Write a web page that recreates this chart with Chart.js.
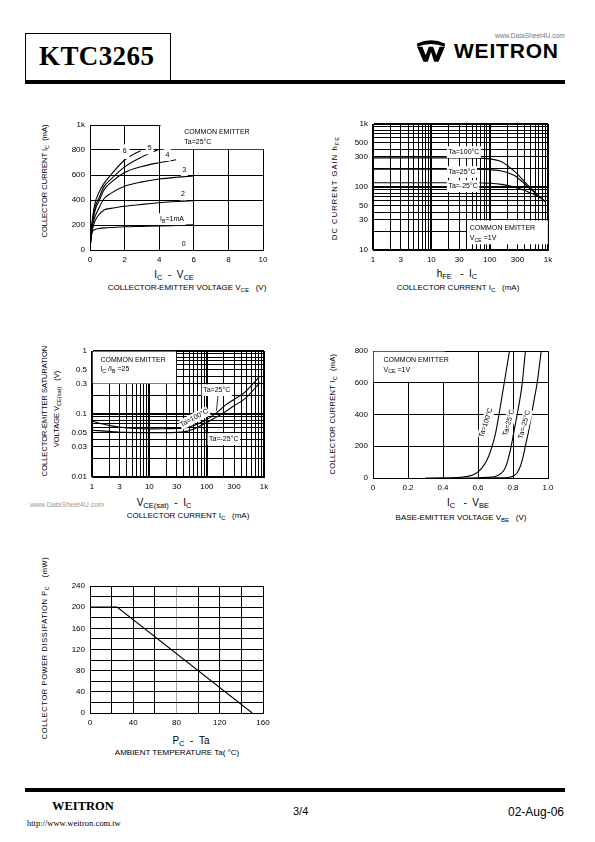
<!DOCTYPE html>
<html><head><meta charset="utf-8">
<script src="https://cdn.jsdelivr.net/npm/chart.js@4.4.1/dist/chart.umd.min.js"></script>
<style>
html,body{margin:0;padding:0;background:#fff;}
#page{position:relative;width:595px;height:842px;overflow:hidden;font-family:"Liberation Sans",Arial,sans-serif;color:#000;}
.abs{position:absolute;white-space:nowrap;line-height:1;}
canvas{position:absolute;}
.t7{font-size:7.5px;}
.d8{font-size:8px;}
.t10{font-size:10px;}
sub{font-size:75%;vertical-align:-0.3em;line-height:0;}
.rot{transform:translate(-50%,-50%) rotate(-90deg);}
.ctr{transform:translate(-50%,-50%);}
.serif{font-family:"Liberation Serif","Times New Roman",serif;}
</style></head><body><div id="page">
<!-- header -->
<div class="abs" style="left:25px;top:33px;width:144px;height:48px;border:1px solid #000;border-bottom:none;"></div>
<div class="abs serif" style="left:39px;top:43px;font-size:27px;font-weight:bold;letter-spacing:0.4px;">KTC3265</div>
<div class="abs" style="left:25px;top:80px;width:540px;height:4px;background:#000;"></div>
<div class="abs" style="left:495px;top:33px;font-size:6.6px;color:#777;">www.DataSheet4U.com</div>
<svg class="abs" style="left:415px;top:39px;" width="32" height="24" viewBox="0 0 30 22">
 <path d="M2 4 Q15 -2 28 4 L28 7 Q15 2 2 7 Z" fill="#000"/>
 <path d="M2 7 L8 21 L12 21 L15 12 L18 21 L22 21 L28 7 L23 7 L20 15 L17 7 L13 7 L10 15 L7 7 Z" fill="#000"/>
</svg>
<div class="abs" style="left:454px;top:40px;font-size:21px;font-weight:bold;letter-spacing:0.8px;">WEITRON</div>
<!-- footer -->
<div class="abs" style="left:25px;top:788px;width:540px;height:4px;background:#000;"></div>
<div class="abs serif" style="left:52px;top:800px;font-size:12.5px;font-weight:bold;">WEITRON</div>
<div class="abs serif" style="left:27px;top:819px;font-size:8.5px;">http://www.weitron.com.tw</div>
<div class="abs" style="left:293px;top:806px;font-size:11px;">3/4</div>
<div class="abs" style="left:508px;top:806px;font-size:12px;">02-Aug-06</div>
<div class="abs" style="left:30px;top:501px;font-size:7px;color:#999;">www.DataSheet4U.com</div>

<!-- chart 1 titles -->
<div class="abs t7 rot" style="left:45px;top:181px;">COLLECTOR CURRENT I<sub>C</sub> &nbsp;(mA)</div>
<div class="abs t10 ctr" style="left:174px;top:275px;">I<sub>C</sub> &nbsp;- &nbsp;V<sub>CE</sub></div>
<div class="abs d8 ctr" style="left:187px;top:288px;">COLLECTOR-EMITTER VOLTAGE V<sub>CE</sub> &nbsp;&nbsp;(V)</div>
<!-- chart 2 titles -->
<div class="abs t7 rot" style="left:335px;top:188px;letter-spacing:1.1px;">DC CURRENT GAIN h<sub>FE</sub></div>
<div class="abs t10 ctr" style="left:457px;top:274px;">h<sub>FE</sub> &nbsp;&nbsp;- &nbsp;I<sub>C</sub></div>
<div class="abs d8 ctr" style="left:458px;top:288px;">COLLECTOR CURRENT I<sub>C</sub> &nbsp;&nbsp;(mA)</div>
<!-- chart 3 titles -->
<div class="abs t7 rot" style="left:45px;top:411px;">COLLECTOR-EMITTER SATURATION</div>
<div class="abs t7 rot" style="left:57px;top:409px;">VOLTAGE V<sub>CE(sat)</sub> &nbsp;&nbsp;(V)</div>
<div class="abs t10 ctr" style="left:164px;top:503px;">V<sub>CE(sat)</sub> &nbsp;- &nbsp;I<sub>C</sub></div>
<div class="abs d8 ctr" style="left:188px;top:516px;">COLLECTOR CURRENT I<sub>C</sub> &nbsp;&nbsp;(mA)</div>
<!-- chart 4 titles -->
<div class="abs t7 rot" style="left:333px;top:414px;letter-spacing:0.3px;">COLLECTOR CURRENT I<sub>C</sub> &nbsp;(mA)</div>
<div class="abs t10 ctr" style="left:468px;top:503px;">I<sub>C</sub> &nbsp;&nbsp;- &nbsp;V<sub>BE</sub></div>
<div class="abs d8 ctr" style="left:461px;top:518px;">BASE-EMITTER VOLTAGE V<sub>BE</sub> &nbsp;&nbsp;(V)</div>
<!-- chart 5 titles -->
<div class="abs t7 rot" style="left:45px;top:648px;letter-spacing:0.6px;">COLLECTOR POWER DISSIPATION P<sub>C</sub> &nbsp;&nbsp;(mW)</div>
<div class="abs t10 ctr" style="left:191px;top:741px;">P<sub>C</sub> &nbsp;- &nbsp;Ta</div>
<div class="abs d8 ctr" style="left:177px;top:753px;">AMBIENT TEMPERATURE Ta( °C)</div>
</div>
<script>
// ---------------- DATA ----------------
// Chart 1: IC - VCE (VCE in V, IC in mA), per base current IB
const icVceIb1X = [0, 0.05, 0.12, 0.23, 0.5, 1, 2, 3, 4, 5, 6];
const icVceIb1Y = [0, 90, 140, 160, 172, 178, 186, 189, 192, 197, 202];
const icVceIb2X = [0, 0.05, 0.15, 0.3, 0.5, 0.81, 1.2, 2, 3, 4, 5, 6];
const icVceIb2Y = [0, 80, 170, 235, 280, 320, 333, 350, 365, 378, 388, 395];
const icVceIb3X = [0, 0.05, 0.15, 0.3, 0.5, 0.81, 1.2, 2, 3, 4, 5, 6];
const icVceIb3Y = [0, 90, 200, 270, 330, 410, 453, 510, 545, 568, 582, 592];
const icVceIb4X = [0, 0.05, 0.15, 0.3, 0.5, 0.81, 1.2, 2, 3, 4, 4.97];
const icVceIb4Y = [0, 95, 220, 320, 385, 480, 539, 620, 668, 698, 722];
const icVceIb5X = [0, 0.05, 0.15, 0.3, 0.5, 0.81, 1.2, 2, 3, 4.05];
const icVceIb5Y = [0, 100, 235, 345, 410, 507, 565, 665, 745, 808];
const icVceIb6X = [0, 0.05, 0.15, 0.3, 0.5, 0.81, 1.2, 2, 2.5, 2.95];
const icVceIb6Y = [0, 110, 260, 380, 455, 533, 600, 720, 765, 795];
const icVceXTicks = [0, 2, 4, 6, 8, 10];
const icVceXLabels = ['0', '2', '4', '6', '8', '10'];
const icVceYTicks = [0, 200, 400, 600, 800, 1000];
const icVceYLabels = ['0', '200', '400', '600', '800', '1k'];

// Chart 2: hFE - IC (IC in mA)
const hfeTa100X = [1, 10, 40, 80, 120, 160, 270, 450, 770, 880];
const hfeTa100Y = [290, 290, 290, 285, 272, 252, 175, 107, 66, 59];
const hfeTa25X = [1, 10, 50, 100, 160, 270, 450, 770, 880];
const hfeTa25Y = [191, 191, 191, 188, 180, 151, 101, 66, 59];
const hfeTaM25X = [1, 10, 60, 100, 160, 270, 450, 770, 880];
const hfeTaM25Y = [117, 117, 117, 115, 110, 99, 84, 66, 59];
const hfeXTicks = [1, 3, 10, 30, 100, 300, 1000];
const hfeXLabels = ['1', '3', '10', '30', '100', '300', '1k'];
const hfeYTicks = [10, 30, 50, 100, 300, 500, 1000];
const hfeYLabels = ['10', '30', '50', '100', '300', '500', '1k'];

// Chart 3: VCE(sat) - IC (IC in mA, VCE(sat) in V)
const vsatTa25X = [1, 2, 3, 5.7, 10, 20, 42, 60, 94, 150, 209, 300, 466, 850];
const vsatTa25Y = [0.0766, 0.066, 0.062, 0.0587, 0.058, 0.0585, 0.060, 0.066, 0.079, 0.105, 0.137, 0.17, 0.223, 0.40];
const vsatTaM25X = [1, 2, 4, 10, 20, 40, 60, 94, 150, 209, 300, 466, 850];
const vsatTaM25Y = [0.0552, 0.053, 0.051, 0.0505, 0.0505, 0.052, 0.058, 0.0705, 0.09, 0.1077, 0.135, 0.175, 0.314];
const vsatXTicks = [1, 3, 10, 30, 100, 300, 1000];
const vsatXLabels = ['1', '3', '10', '30', '100', '300', '1k'];
const vsatYTicks = [0.01, 0.03, 0.05, 0.1, 0.3, 0.5, 1];
const vsatYLabels = ['0.01', '0.03', '0.05', '0.1', '0.3', '0.5', '1'];

// Chart 4: IC - VBE (VBE in V, IC in mA)
const vbeTa100X = [0.30, 0.40, 0.45, 0.50, 0.55, 0.59, 0.62, 0.65, 0.675, 0.70, 0.72, 0.735, 0.75, 0.765, 0.78];
const vbeTa100Y = [0, 1, 2, 5, 12, 30, 60, 110, 180, 280, 400, 500, 600, 700, 800];
const vbeTa25X = [0.45, 0.60, 0.68, 0.70, 0.73, 0.757, 0.786, 0.805, 0.824, 0.84, 0.853, 0.862, 0.871];
const vbeTa25Y = [0, 2, 6, 10, 27, 67, 181, 290, 400, 500, 598, 700, 800];
const vbeTaM25X = [0.60, 0.70, 0.78, 0.805, 0.825, 0.843, 0.857, 0.871, 0.89, 0.906, 0.922, 0.938, 0.95, 0.961];
const vbeTaM25Y = [0, 1, 5, 14, 35, 77, 130, 202, 300, 400, 500, 598, 700, 800];
const vbeXTicks = [0, 0.2, 0.4, 0.6, 0.8, 1.0];
const vbeXLabels = ['0', '0.2', '0.4', '0.6', '0.8', '1.0'];
const vbeYTicks = [0, 200, 400, 600, 800];
const vbeYLabels = ['0', '200', '400', '600', '800'];

// Chart 5: PC - Ta (Ta in degC, PC in mW)
const pcTaX = [0, 25, 150];
const pcTaY = [200, 200, 0];
const pcXTicks = [0, 40, 80, 120, 160];
const pcXLabels = ['0', '40', '80', '120', '160'];
const pcYTicks = [0, 40, 80, 120, 160, 200, 240];
const pcYLabels = ['0', '40', '80', '120', '160', '200', '240'];

// ---------------- HELPERS ----------------
const FONT = '"Liberation Sans", Arial, sans-serif';
Chart.defaults.font.family = FONT;
Chart.defaults.font.size = 8;
Chart.defaults.color = '#000';
const page = document.getElementById('page');

function pts(xs, ys) { return xs.map((x, i) => ({ x: x, y: ys[i] })); }
function lookupLabel(values, labels) {
  return function (v) {
    const k = values.findIndex(t => Math.abs(t - v) <= Math.abs(t) * 1e-6 + 1e-9);
    return k >= 0 ? labels[k] : '';
  };
}
function logGrid(min, max) {
  const out = [];
  for (let d = Math.floor(Math.log10(min)); d <= Math.ceil(Math.log10(max)); d++) {
    for (let m = 1; m < 10; m++) {
      const v = +(m * Math.pow(10, d)).toPrecision(6);
      if (v >= min * 0.9999 && v <= max * 1.0001) out.push(v);
    }
  }
  return out;
}
function isDecade(v) { const l = Math.log10(v); return Math.abs(l - Math.round(l)) < 1e-6; }

function linScale(min, max, step, tickVals, tickLabels, gridColor) {
  return {
    type: 'linear', min: min, max: max,
    border: { display: true, color: '#000', width: 1 },
    grid: { color: gridColor || '#000', lineWidth: 1, drawTicks: false },
    ticks: { stepSize: step, autoSkip: false, maxRotation: 0, padding: 5, callback: lookupLabel(tickVals, tickLabels) }
  };
}
function logScale(min, max, tickVals, tickLabels) {
  const g = logGrid(min, max);
  return {
    type: 'logarithmic', min: min, max: max,
    border: { display: true, color: '#000', width: 1 },
    grid: { color: '#000', drawTicks: false, lineWidth: c => (c.tick && isDecade(c.tick.value)) ? 2 : 1 },
    afterBuildTicks: s => { s.ticks = g.map(v => ({ value: v })); },
    ticks: { autoSkip: false, maxRotation: 0, padding: 5, callback: lookupLabel(tickVals, tickLabels) }
  };
}
function line(data, extra) {
  return Object.assign({ data: data, borderColor: '#000', borderWidth: 1.1, pointRadius: 0, fill: false, cubicInterpolationMode: 'monotone' }, extra || {});
}

// rich text with _{sub}
function parseRich(s) {
  const segs = []; const re = /_\{([^}]*)\}/g; let last = 0, m;
  while ((m = re.exec(s))) { if (m.index > last) segs.push({ t: s.slice(last, m.index), sub: false }); segs.push({ t: m[1], sub: true }); last = re.lastIndex; }
  if (last < s.length) segs.push({ t: s.slice(last), sub: false });
  return segs;
}
function richWidth(ctx, segs, size) {
  let w = 0; for (const s of segs) { ctx.font = (s.sub ? size * 0.75 : size) + 'px ' + FONT; w += ctx.measureText(s.t).width; } return w;
}
const ANNOT = {};
const annotPlugin = {
  id: 'annot',
  beforeDatasetsDraw(chart) {
    const a = ANNOT[chart.canvas.id]; if (!a || !a.boxes) return;
    const xs = chart.scales.x, ys = chart.scales.y, ca = chart.chartArea, ctx = chart.ctx;
    ctx.save(); ctx.fillStyle = '#fff';
    for (const b of a.boxes) {
      let x1 = xs.getPixelForValue(b.x1), x2 = xs.getPixelForValue(b.x2);
      let y1 = ys.getPixelForValue(b.y1), y2 = ys.getPixelForValue(b.y2);
      const L = Math.max(Math.min(x1, x2), ca.left - 1), R = Math.min(Math.max(x1, x2), ca.right + 1);
      const T = Math.max(Math.min(y1, y2), ca.top - 1), B = Math.min(Math.max(y1, y2), ca.bottom + 1);
      ctx.fillRect(L, T, R - L, B - T);
    }
    ctx.restore();
  },
  afterDatasetsDraw(chart) {
    const a = ANNOT[chart.canvas.id]; if (!a) return;
    const xs = chart.scales.x, ys = chart.scales.y, ctx = chart.ctx;
    ctx.save();
    for (const l of (a.leaders || [])) {
      ctx.strokeStyle = '#000'; ctx.lineWidth = 0.8; ctx.beginPath();
      ctx.moveTo(xs.getPixelForValue(l.x1), ys.getPixelForValue(l.y1));
      ctx.lineTo(xs.getPixelForValue(l.x2), ys.getPixelForValue(l.y2)); ctx.stroke();
    }
    for (const L of (a.labels || [])) {
      const px = xs.getPixelForValue(L.x), py = ys.getPixelForValue(L.y);
      const size = L.size || 7; const segs = parseRich(L.text);
      ctx.save(); ctx.translate(px, py); if (L.rot) ctx.rotate(L.rot * Math.PI / 180);
      const w = richWidth(ctx, segs, size);
      const x0 = L.align === 'center' ? -w / 2 : 0;
      if (L.bg) { const p = L.pad == null ? 1.5 : L.pad; ctx.fillStyle = '#fff'; ctx.fillRect(x0 - p, -size * 0.6 - p, w + 2 * p, size * 1.25 + 2 * p); }
      ctx.fillStyle = '#000'; ctx.textBaseline = 'middle'; ctx.textAlign = 'left';
      let cx = x0;
      for (const s of segs) { const fs = s.sub ? size * 0.75 : size; ctx.font = fs + 'px ' + FONT; ctx.fillText(s.t, cx, s.sub ? size * 0.3 : 0); cx += ctx.measureText(s.t).width; }
      ctx.restore();
    }
    ctx.restore();
  }
};

function makeChart(id, box, datasets, xScale, yScale) {
  const YW = 45, XH = 22, PT = 10, PR = 15;
  const c = document.createElement('canvas'); c.id = id;
  const W = (box.r - box.l) + YW + PR, H = (box.b - box.t) + PT + XH;
  c.width = W; c.height = H;
  c.style.left = (box.l - YW) + 'px'; c.style.top = (box.t - PT) + 'px';
  c.style.width = W + 'px'; c.style.height = H + 'px';
  page.appendChild(c);
  xScale.afterFit = s => { s.height = XH; };
  yScale.afterFit = s => { s.width = YW; };
  return new Chart(c, {
    type: 'line', data: { datasets: datasets },
    options: {
      responsive: false, animation: false, devicePixelRatio: 1,
      layout: { padding: { top: PT, right: PR, left: 0, bottom: 0 } },
      plugins: { legend: { display: false }, tooltip: { enabled: false } },
      scales: { x: xScale, y: yScale }
    },
    plugins: [annotPlugin]
  });
}

// ---------------- CHART 1 ----------------
ANNOT.c1 = {
  boxes: [{ x1: 4.08, x2: 11, y1: 806, y2: 1100 }],
  labels: [
    { text: 'COMMON EMITTER', x: 5.45, y: 941 },
    { text: 'Ta=25°C', x: 5.45, y: 867 },
    { text: '6', x: 2.0, y: 788, align: 'center', bg: true, pad: 3 },
    { text: '5', x: 3.45, y: 818, align: 'center', bg: true, pad: 2 },
    { text: '4', x: 4.48, y: 762, align: 'center', bg: true },
    { text: '3', x: 5.45, y: 640, align: 'center', bg: true },
    { text: '2', x: 5.37, y: 445, align: 'center', bg: true },
    { text: 'I_{B}=1mA', x: 4.05, y: 248, bg: true },
    { text: '0', x: 5.42, y: 45, align: 'center' }
  ]
};
makeChart('c1', { l: 90, t: 125, r: 263, b: 250 }, [
  line(pts(icVceIb1X, icVceIb1Y)), line(pts(icVceIb2X, icVceIb2Y)), line(pts(icVceIb3X, icVceIb3Y)),
  line(pts(icVceIb4X, icVceIb4Y)), line(pts(icVceIb5X, icVceIb5Y)), line(pts(icVceIb6X, icVceIb6Y))
], linScale(0, 10, 2, icVceXTicks, icVceXLabels), linScale(0, 1000, 200, icVceYTicks, icVceYLabels));

// ---------------- CHART 2 ----------------
ANNOT.c2 = {
  boxes: [{ x1: 41, x2: 995, y1: 12.3, y2: 29.5 }],
  labels: [
    { text: 'COMMON EMITTER', x: 45.6, y: 22.3 },
    { text: 'V_{CE} =1V', x: 45.6, y: 15.3 },
    { text: 'Ta=100°C', x: 19.6, y: 360, bg: true },
    { text: 'Ta=25°C', x: 19.6, y: 174, bg: true },
    { text: 'Ta=-25°C', x: 19.6, y: 104, bg: true }
  ]
};
makeChart('c2', { l: 373, t: 124, r: 548, b: 250 }, [
  line(pts(hfeTa100X, hfeTa100Y)), line(pts(hfeTa25X, hfeTa25Y)), line(pts(hfeTaM25X, hfeTaM25Y))
], logScale(1, 1000, hfeXTicks, hfeXLabels), logScale(10, 1000, hfeYTicks, hfeYLabels));

// ---------------- CHART 3 ----------------
ANNOT.c3 = {
  boxes: [{ x1: 1.03, x2: 29.3, y1: 0.305, y2: 0.98 }],
  labels: [
    { text: 'COMMON EMITTER', x: 1.4, y: 0.73 },
    { text: 'I_{C} /I_{B} =25', x: 1.4, y: 0.51 },
    { text: 'Ta=25°C', x: 87, y: 0.241, bg: true },
    { text: 'Ta=100°C', x: 60.6, y: 0.0865, align: 'center', rot: -28, bg: true, pad: 0.5 },
    { text: 'Ta=-25°C', x: 110, y: 0.0402, bg: true }
  ],
  leaders: [
    { x1: 158, y1: 0.2, x2: 148, y2: 0.112 },
    { x1: 113, y1: 0.045, x2: 78, y2: 0.067 }
  ]
};
makeChart('c3', { l: 92, t: 351, r: 264, b: 477 }, [
  line(pts(vsatTa25X, vsatTa25Y)), line(pts(vsatTaM25X, vsatTaM25Y))
], logScale(1, 1000, vsatXTicks, vsatXLabels), logScale(0.01, 1, vsatYTicks, vsatYLabels));

// ---------------- CHART 4 ----------------
ANNOT.c4 = {
  boxes: [{ x1: 0.004, x2: 0.41, y1: 606, y2: 796 }],
  labels: [
    { text: 'COMMON EMITTER', x: 0.06, y: 744 },
    { text: 'V_{CE} =1V', x: 0.06, y: 681 },
    { text: 'Ta=100°C', x: 0.645, y: 348, align: 'center', rot: -72, bg: true, pad: 0.5 },
    { text: 'Ta=25°C', x: 0.775, y: 348, align: 'center', rot: -75, bg: true, pad: 0.5 },
    { text: 'Ta=-25°C', x: 0.865, y: 337, align: 'center', rot: -75, bg: true, pad: 0.5 }
  ]
};
makeChart('c4', { l: 373, t: 351, r: 548, b: 478 }, [
  line(pts(vbeTa100X, vbeTa100Y)), line(pts(vbeTa25X, vbeTa25Y)), line(pts(vbeTaM25X, vbeTaM25Y))
], linScale(0, 1, 0.2, vbeXTicks, vbeXLabels), linScale(0, 800, 200, vbeYTicks, vbeYLabels));

// ---------------- CHART 5 ----------------
ANNOT.c5 = {};
makeChart('c5', { l: 90, t: 586, r: 263, b: 713 }, [
  line(pts(pcTaX, pcTaY), { cubicInterpolationMode: 'default', tension: 0 })
], linScale(0, 160, 20, pcXTicks, pcXLabels, c => (c.tick && c.tick.value === 80) ? '#aaa' : '#000'),
   linScale(0, 240, 20, pcYTicks, pcYLabels));
</script>
</body></html>
